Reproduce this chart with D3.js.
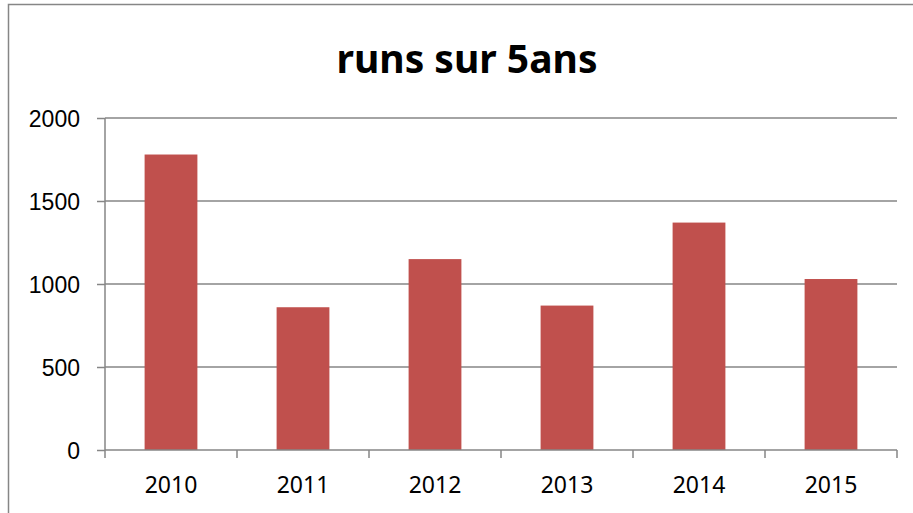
<!DOCTYPE html>
<html>
<head>
<meta charset="utf-8">
<script src="https://cdn.jsdelivr.net/npm/d3@7"></script>
<style>
  html, body { margin: 0; padding: 0; background: #fff; overflow: hidden; }
  svg { display: block; font-family: 'Noto Sans', 'Open Sans', sans-serif; }
</style>
</head>
<body>
<div id="root"></div>
<script>
const width = 913;
const height = 513;

// data
const years = ['2010', '2011', '2012', '2013', '2014', '2015'];
const runs = [1780, 860, 1150, 870, 1370, 1030];
const yTicks = [0, 500, 1000, 1500, 2000];
const title = 'runs sur 5ans';

const margin = {top: 118, right: 16, bottom: 63, left: 105};
const gridColor = '#868686';

const svg = d3.select('#root')
    .append('svg')
    .attr('width', width)
    .attr('height', height);

// chart frame (cut by the window on the right and bottom)
svg.append('rect')
    .attr('x', 8.5)
    .attr('y', 4.5)
    .attr('width', width + 20)
    .attr('height', height + 20)
    .attr('fill', 'none')
    .attr('stroke', gridColor)
    .attr('stroke-width', 1.5);

const x = d3.scaleBand()
    .domain(years)
    .range([margin.left, width - margin.right])
    .paddingInner(0.6)
    .paddingOuter(0.3);

const y = d3.scaleLinear()
    .domain([0, 2000])
    .range([height - margin.bottom, margin.top]);

// y axis
const yAxis = svg.append('g')
    .attr('transform', `translate(${margin.left},0)`)
    .call(d3.axisLeft(y).tickValues(yTicks).tickFormat(d3.format('d')).tickSize(8).tickPadding(17));
yAxis.select('.domain').attr('stroke', gridColor).attr('stroke-width', 1.5)
    .attr('d', `M0,${y(0)}V${y(2000)}`);
yAxis.selectAll('.tick line').attr('stroke', gridColor).attr('stroke-width', 1.5);
yAxis.selectAll('.tick text')
    .attr('fill', '#000')
    .style('font-size', '23px')
    .attr('dy', '0.36em');

// horizontal gridlines
svg.append('g')
    .selectAll('line')
    .data(yTicks.filter(d => d > 0))
    .join('line')
    .attr('x1', margin.left)
    .attr('x2', width - margin.right)
    .attr('y1', d => y(d))
    .attr('y2', d => y(d))
    .attr('stroke', gridColor)
    .attr('stroke-width', 1.5);

// bars
svg.append('g')
    .selectAll('rect')
    .data(years)
    .join('rect')
    .attr('x', d => x(d))
    .attr('y', (d, i) => y(runs[i]))
    .attr('width', x.bandwidth())
    .attr('height', (d, i) => y(0) - y(runs[i]))
    .attr('fill', '#C0504D');

// x axis with ticks between categories
const step = x.step();
const boundaries = d3.range(years.length + 1).map(i => margin.left + i * step);
const xAxis = svg.append('g');
xAxis.append('line')
    .attr('x1', margin.left)
    .attr('x2', width - margin.right)
    .attr('y1', y(0))
    .attr('y2', y(0))
    .attr('stroke', gridColor)
    .attr('stroke-width', 1.5);
xAxis.selectAll('line.tk')
    .data(boundaries)
    .join('line')
    .attr('class', 'tk')
    .attr('x1', d => d)
    .attr('x2', d => d)
    .attr('y1', y(0))
    .attr('y2', y(0) + 8)
    .attr('stroke', gridColor)
    .attr('stroke-width', 1.5);
xAxis.selectAll('text')
    .data(years)
    .join('text')
    .attr('x', d => x(d) + x.bandwidth() / 2)
    .attr('y', 493)
    .attr('text-anchor', 'middle')
    .style('font-size', '23px')
    .attr('fill', '#000')
    .text(d => d);

// title
svg.append('text')
    .attr('x', 467)
    .attr('y', 73)
    .attr('text-anchor', 'middle')
    .style('font-size', '39px')
    .style('font-weight', 'bold')
    .attr('fill', '#000')
    .text(title);
</script>
</body>
</html>
